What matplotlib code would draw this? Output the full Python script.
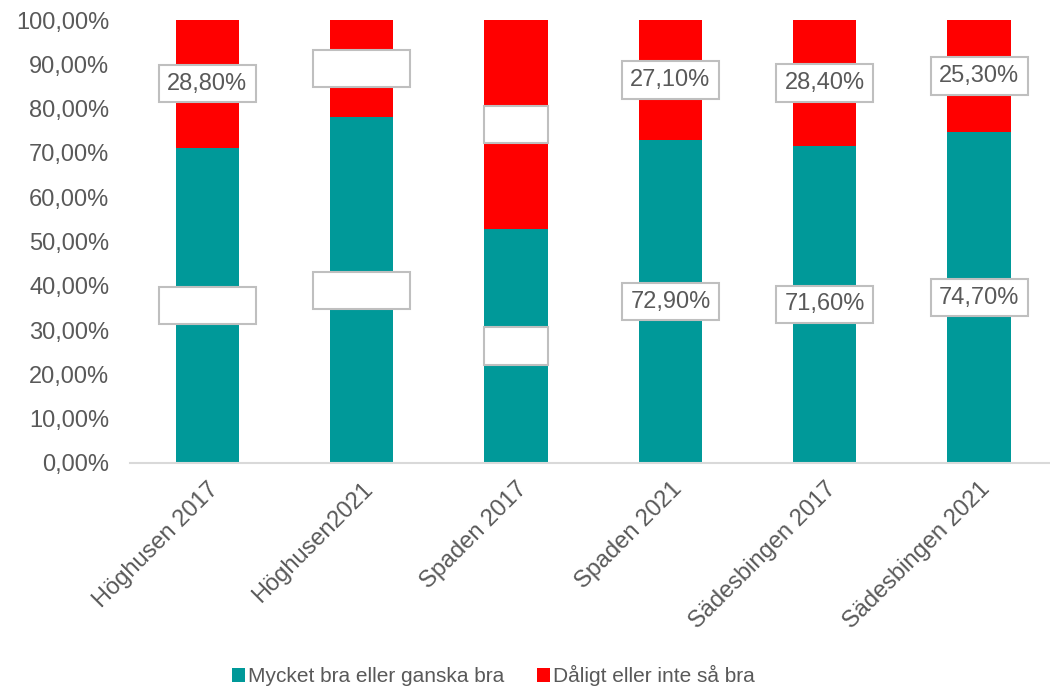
import numpy as np
import matplotlib.pyplot as plt
from matplotlib.patches import Rectangle

plt.rcParams['font.family'] = ['Liberation Sans', 'DejaVu Sans']

# data (percent)
categories = ['Höghusen 2017', 'Höghusen2021', 'Spaden 2017',
              'Spaden 2021', 'Sädesbingen 2017', 'Sädesbingen 2021']
good = [71.2, 78.0, 52.8, 72.9, 71.6, 74.7]
bad = [28.8, 22.0, 47.2, 27.1, 28.4, 25.3]
# which data labels show their text (the others are empty boxes)
show_good = [False, False, False, True, True, True]
show_bad = [True, False, False, True, True, True]
series_names = ['Mycket bra eller ganska bra', 'Dåligt eller inte så bra']

teal = '#009999'
red = '#ff0000'
gray_txt = '#595959'
box_edge = '#bfbfbf'

fig = plt.figure(figsize=(10.5, 6.9), dpi=100)
ax = fig.add_axes([0.124, 0.329, 0.882, 0.642])

x = np.arange(len(categories))
w = 0.41
ax.bar(x, good, w, color=teal, label=series_names[0])
ax.bar(x, bad, w, bottom=good, color=red, label=series_names[1])

ax.set_xlim(-0.5, len(categories) - 0.5)
ax.set_ylim(0, 100)
ax.set_yticks(np.arange(0, 101, 10))
ax.set_yticklabels(['%d,00%%' % v for v in range(0, 101, 10)])
ax.set_xticks(x)
ax.set_xticklabels(categories, rotation=45, ha='right', rotation_mode='anchor')

ax.tick_params(axis='both', length=0, labelsize=17, labelcolor=gray_txt)
ax.tick_params(axis='y', pad=15)
ax.tick_params(axis='x', pad=11)
for s in ['top', 'right', 'left']:
    ax.spines[s].set_visible(False)
ax.spines['bottom'].set_color('#d9d9d9')
ax.spines['bottom'].set_linewidth(1.5)


def label_box(xc, yc, text, bw):
    bh = 8.4
    ax.add_patch(Rectangle((xc - bw / 2, yc - bh / 2), bw, bh, facecolor='white',
                           edgecolor=box_edge, linewidth=1.5, zorder=3))
    if text:
        ax.text(xc, yc, text, ha='center', va='center', fontsize=17,
                color=gray_txt, zorder=4)


def fmt(v):
    return ('%.2f%%' % v).replace('.', ',')


for i in range(len(categories)):
    # Spaden 2017 boxes are only as wide as the bar
    bw = 0.42 if categories[i] == 'Spaden 2017' else 0.63
    label_box(x[i], good[i] / 2, fmt(good[i]) if show_good[i] else '', bw)
    label_box(x[i], good[i] + bad[i] / 2, fmt(bad[i]) if show_bad[i] else '', bw)

fig.legend(loc='lower center', bbox_to_anchor=(0.47, -0.022), ncol=2, frameon=False,
           fontsize=15, labelcolor=gray_txt, handlelength=0.6, handleheight=0.6,
           handletextpad=0.15, columnspacing=1.6)

plt.savefig('out.png', dpi=100)
